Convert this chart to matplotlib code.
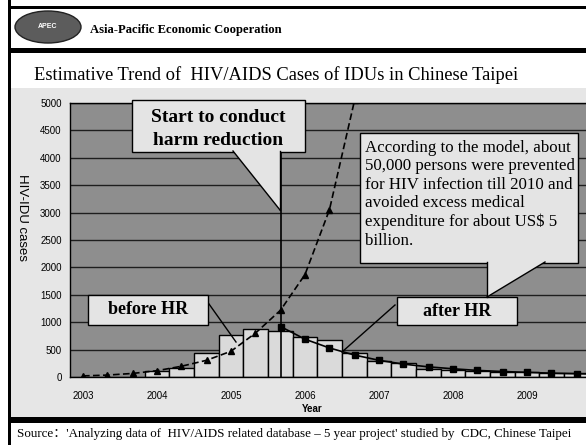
import matplotlib
matplotlib.use('Agg')
import matplotlib.pyplot as plt
from matplotlib.patches import Rectangle, Ellipse, Polygon

# ---------------- data (4-month periods, in years) ----------------
bar_t = [2004.0, 2004.33, 2004.67, 2005.0, 2005.33, 2005.67, 2006.0, 2006.33,
         2006.67, 2007.0, 2007.33, 2007.67, 2008.0, 2008.33, 2008.67, 2009.0,
         2009.33, 2009.67, 2010.0]
bar_cases = [110, 170, 440, 768, 870, 847, 726, 677, 439, 293, 262, 154, 130,
             115, 100, 90, 75, 65, 55]

noHR_t = [2003.0, 2003.33, 2003.67, 2004.0, 2004.33, 2004.67, 2005.0, 2005.33,
          2005.67, 2006.0, 2006.33, 2006.67, 2007.0]
noHR_cases = [20, 35, 65, 115, 196, 305, 470, 800, 1220, 1870, 3050, 5050, 7500]

HR_t = [2005.67, 2006.0, 2006.33, 2006.67, 2007.0, 2007.33, 2007.67, 2008.0,
        2008.33, 2008.67, 2009.0, 2009.33, 2009.67, 2010.0]
HR_cases = [920, 690, 530, 400, 305, 235, 185, 150, 120, 100, 85, 70, 60, 50]

hr_start = 2005.68
year_ticks = [2003, 2004, 2005, 2006, 2007, 2008, 2009]
y_ticks = [0, 500, 1000, 1500, 2000, 2500, 3000, 3500, 4000, 4500, 5000]

# ---------------- figure ----------------
W, H = 586, 445
fig = plt.figure(figsize=(W / 100, H / 100), dpi=100)
fig.patch.set_facecolor('white')

SERIF = ['Liberation Serif', 'DejaVu Serif']
SANS = ['Liberation Sans', 'DejaVu Sans']

bg = fig.add_axes([0, 0, 1, 1], zorder=-1)
bg.set_xlim(0, W)
bg.set_ylim(H, 0)
bg.axis('off')

# chart area
bg.add_patch(Rectangle((11, 88), W - 11, 329, fc='#e6e6e6', ec='none'))
# borders
bg.add_patch(Rectangle((8, 0), 3, H, fc='black', ec='none'))
bg.add_patch(Rectangle((8, 6), W - 8, 2.5, fc='black', ec='none'))
bg.add_patch(Rectangle((8, 48), W - 8, 4.5, fc='black', ec='none'))
bg.add_patch(Rectangle((8, 417), W - 8, 6, fc='black', ec='none'))
# logo
bg.add_patch(Ellipse((48, 27), 66, 32, fc='#5c5c5c', ec='#222222', lw=1))
bg.text(48, 27, 'APEC', color='white', fontsize=5, ha='center', va='center',
        family=SANS, weight='bold')

fig.text(90 / W, 1 - 30 / H, 'Asia-Pacific Economic Cooperation', family=SERIF,
         weight='bold', fontsize=9.1, ha='left', va='center')
fig.text(34 / W, 1 - 75 / H,
         'Estimative Trend of  HIV/AIDS Cases of IDUs in Chinese Taipei',
         family=SERIF, fontsize=13.3, ha='left', va='center')
fig.text(17 / W, 1 - 434 / H,
         "Source\uff1a'Analyzing data of  HIV/AIDS related database \u2013 5 year project' studied by  CDC, Chinese Taipei",
         family=['Liberation Serif', 'Noto Sans CJK SC'], fontsize=9.4,
         ha='left', va='center')

# ---------------- main axes ----------------
x0px, x1px, y0px, y1px = 70, 608, 103, 377
ax = fig.add_axes([x0px / W, 1 - y1px / H, (x1px - x0px) / W, (y1px - y0px) / H])
ax.set_xlim(2003 + (x0px - 83) / 74, 2003 + (x1px - 83) / 74)
ax.set_ylim(0, 5000)
ax.set_facecolor('#8e8e8e')
for s in ax.spines.values():
    s.set_color('black')
    s.set_linewidth(1)
ax.set_yticks(y_ticks)
ax.set_xticks(year_ticks)
ax.set_xticklabels([str(y) for y in year_ticks])
ax.tick_params(length=0, labelsize=7)
ax.tick_params(axis='x', pad=10)
ax.tick_params(axis='y', pad=6)
for lab in ax.get_xticklabels() + ax.get_yticklabels():
    lab.set_family(SANS)
ax.grid(axis='y', color='#1e1e1e', lw=1.0, zorder=0.5)
ax.set_axisbelow(True)

ax.bar(bar_t, bar_cases, width=1 / 3, color='#dadada', edgecolor='black',
       lw=1, zorder=2)
ax.plot(noHR_t, noHR_cases, ls=(0, (4, 2)), color='black', lw=1.2,
        marker='^', ms=4.5, zorder=3)
ax.plot(HR_t, HR_cases, ls='-', color='black', lw=1.2, marker='s', ms=4,
        zorder=3)
ax.axvline(hr_start, color='black', lw=1.2, zorder=3)

fig.text(22 / W, 1 - 218 / H, 'HIV-IDU cases', rotation=-90, family=SANS,
         fontsize=9.5, ha='center', va='center')
fig.text(312 / W, 1 - 409 / H, 'Year', family=SANS, fontsize=7,
         weight='bold', ha='center', va='center')


# ---------------- callouts (layout in pixel units) ----------------
def d(px, py):
    return (2003 + (px - 83) / 74, (377 - py) * 5000 / 274)


BOXC = '#e4e4e4'


def box(x0, y0, x1, y1, z=6):
    (a, b), (c, e) = d(x0, y1), d(x1, y0)
    ax.add_patch(Rectangle((a, b), c - a, e - b, fc=BOXC, ec='black', lw=1,
                           clip_on=False, zorder=z))


def pointer(p1, p2, tip, z=6.5):
    pts = [d(*p1), d(*p2), d(*tip)]
    ax.add_patch(Polygon(pts, closed=True, fc=BOXC, ec='none', clip_on=False,
                         zorder=z))
    for p in (p1, p2):
        (a, b), (c, e) = d(*p), d(*tip)
        ax.plot([a, c], [b, e], color='black', lw=1, clip_on=False, zorder=z)


box(132, 100, 305, 152)
pointer((233, 151), (280, 151), (280, 210))
ax.text(*d(218, 129), 'Start to conduct\nharm reduction', family=SERIF,
        weight='bold', fontsize=14, ha='center', va='center',
        linespacing=1.4, zorder=7)

box(360, 133, 578, 263)
pointer((487, 262), (545, 262), (487, 297))
ax.text(*d(365, 140), 'According to the model, about\n50,000 persons were prevented\n'
        'for HIV infection till 2010 and\navoided excess medical\n'
        'expenditure for about US$ 5\nbillion.', family=SERIF, fontsize=12.2,
        ha='left', va='top', linespacing=1.2, zorder=7)

box(88, 295, 208, 325)
ax.text(*d(148, 310), 'before HR', family=SERIF, weight='bold', fontsize=13,
        ha='center', va='center', zorder=7)
a, b = d(209, 304)
c, e = d(236, 342)
ax.plot([a, c], [b, e], color='black', lw=1, zorder=6)

box(397, 297, 517, 325)
ax.text(*d(457, 311), 'after HR', family=SERIF, weight='bold', fontsize=13,
        ha='center', va='center', zorder=7)
a, b = d(395, 305)
c, e = d(342, 352)
ax.plot([a, c], [b, e], color='black', lw=1, zorder=6)

fig.savefig('out.png', dpi=100)
